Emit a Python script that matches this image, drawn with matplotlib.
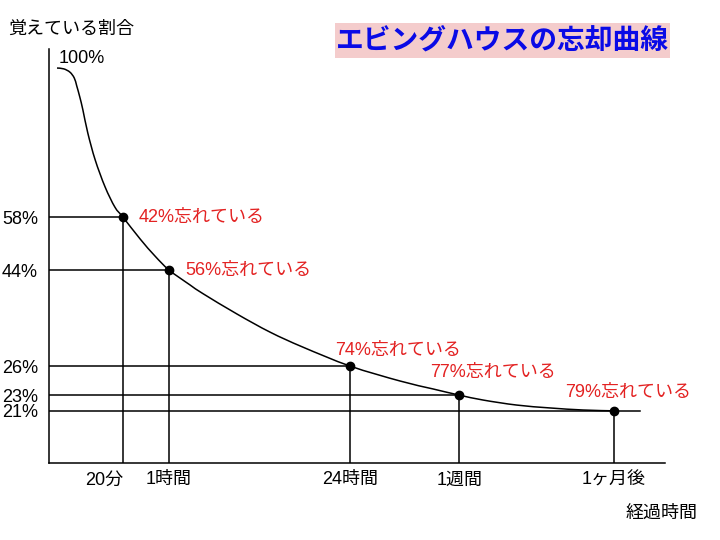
import matplotlib
matplotlib.use("Agg")
import matplotlib.pyplot as plt
from matplotlib.patches import Rectangle, PathPatch
from matplotlib.path import Path

plt.rcParams['font.family'] = ['Liberation Sans', 'Noto Sans CJK JP']

# --- データ (図の縦横 0-100 の模式スケール) ---
time_labels = ['20分', '1時間', '24時間', '1週間', '1ヶ月後']
time_pos = [12.0, 19.5, 48.9, 66.6, 91.7]
remain_labels = ['58%', '44%', '26%', '23%', '21%']
remain_level = [59.4, 46.6, 23.4, 16.4, 12.6]
forget_labels = ['42%忘れている', '56%忘れている', '74%忘れている', '77%忘れている', '79%忘れている']

# 忘却曲線 (図から読み取った点)
curve_x = [1.3, 2.4, 3.4, 4.1, 4.5, 5.0, 5.5, 6.3, 7.5, 9.1, 10.7, 12.0, 14.8, 17.2, 19.5,
           22.9, 25.0, 30.5, 35.9, 41.2, 48.9, 57.0, 62.3, 66.6, 70.5, 75.9, 81.3, 86.7, 91.7]
curve_y = [95.4, 95.2, 94.4, 93.0, 91.1, 88.4, 85.3, 79.7, 73.2, 66.7, 61.8, 59.4, 54.1, 50.0, 46.6,
           43.0, 40.9, 36.0, 31.6, 28.0, 23.4, 19.8, 17.9, 16.4, 15.2, 14.0, 13.3, 12.8, 12.6]

RED = '#e32222'
LW = 1.1
LAST_LINE_END = 95.9
# ラベルの位置ずらし (points)
label_offsets = [(11, 0), (12, 0), (-11, 11), (-21, 16), (-35, 13)]


def smooth_path(xs, ys):
    # Catmull-Rom -> ベジェ曲線で読み取り点を滑らかにつなぐ
    pts = list(zip(xs, ys))
    verts = [pts[0]]
    codes = [Path.MOVETO]
    for i in range(len(pts) - 1):
        p0 = pts[i - 1] if i > 0 else pts[i]
        p1 = pts[i]
        p2 = pts[i + 1]
        p3 = pts[i + 2] if i + 2 < len(pts) else pts[i + 1]
        c1 = (p1[0] + (p2[0] - p0[0]) / 6, p1[1] + (p2[1] - p0[1]) / 6)
        c2 = (p2[0] - (p3[0] - p1[0]) / 6, p2[1] - (p3[1] - p1[1]) / 6)
        verts += [c1, c2, p2]
        codes += [Path.CURVE4] * 3
    return Path(verts, codes)


fig = plt.figure(figsize=(7.2, 5.4), dpi=100)
ax = fig.add_axes([49 / 720, 77 / 540, 616 / 720, 414 / 540])
ax.set_xlim(0, 100)
ax.set_ylim(0, 100)

ax.add_patch(PathPatch(smooth_path(curve_x, curve_y), facecolor='none',
                       edgecolor='black', lw=LW))

# 補助線
for i, (x, y) in enumerate(zip(time_pos, remain_level)):
    x_end = LAST_LINE_END if i == len(time_pos) - 1 else x
    ax.plot([0, x_end], [y, y], color='black', lw=LW)
    ax.plot([x, x], [0, y], color='black', lw=LW)

ax.plot(time_pos, remain_level, 'o', color='black', ms=6, zorder=5)

for x, y, txt, off in zip(time_pos, remain_level, forget_labels, label_offsets):
    ax.annotate(txt, (x, y), xytext=off, textcoords='offset points',
                ha='left', va='center', color=RED, fontsize=13)

ax.text(1.6, 97.6, '100%', fontsize=13, va='center', ha='left')

# 軸
for s in ['top', 'right']:
    ax.spines[s].set_visible(False)
for s in ['left', 'bottom']:
    ax.spines[s].set_linewidth(LW)
ax.set_xticks(time_pos, time_labels, fontsize=13)
ax.set_yticks(remain_level, remain_labels, fontsize=13)
ax.tick_params(axis='x', length=0, pad=6)
ax.tick_params(axis='y', length=0, pad=8)
ax.get_xticklabels()[0].set_ha('right')

fig.text(8 / 720, 1 - 29 / 540, '覚えている割合', fontsize=13, va='center', ha='left')
fig.text(626 / 720, 1 - 513 / 540, '経過時間', fontsize=13, va='center', ha='left')

# タイトル
fig.patches.append(Rectangle((335 / 720, 1 - 58 / 540), 335 / 720, 35 / 540,
                             transform=fig.transFigure, facecolor='#f4cccc', edgecolor='none'))
fig.text(502 / 720, 1 - 41 / 540, 'エビングハウスの忘却曲線', fontsize=20, fontweight='bold',
         color='#0a0ae6', ha='center', va='center')

fig.savefig('out.png', dpi=100)
